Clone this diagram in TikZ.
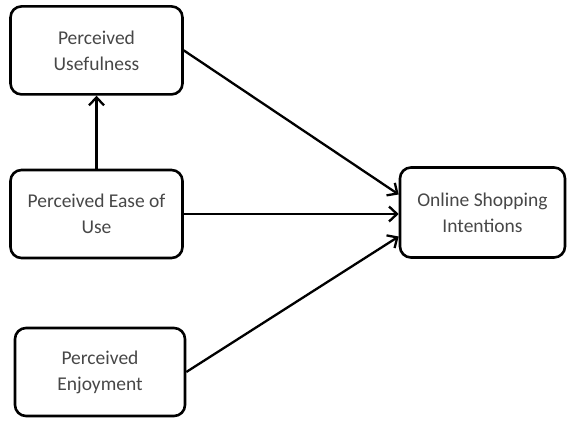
\documentclass[tikz,border=0pt]{standalone}
\usepackage{fontspec}
\setmainfont{Carlito}
\usetikzlibrary{positioning, arrows.meta}

\begin{document}
\begin{tikzpicture}[x=1pt, y=-1pt,
	box/.style={draw, line width=2.6pt, rounded corners=11pt, align=center, text=black!72,
		font=\fontsize{19.5}{26}\selectfont, inner sep=0pt},
	arr/.style={line width=2.3pt, -{Straight Barb[length=8pt, width=15pt, line width=2.3pt]}}]
	\useasboundingbox (0,0) rectangle (568,423);
	\node[box, minimum width=172pt, minimum height=88pt] (peou) at (96.5,214) {Perceived Ease of\\Use};
	\node[box, minimum width=172pt, minimum height=88pt, above=73pt of peou] (pu) {Perceived\\Usefulness};
	\node[box, minimum width=170pt, minimum height=88pt] (pe) at (100,372) {Perceived\\Enjoyment};
	\node[box, minimum width=165pt, minimum height=90pt] (osi) at (482.5,212.5) {Online Shopping\\Intentions};
	\draw[arr] (peou) -- (pu);
	\draw[arr] (pu.east) -- ([yshift=18pt]osi.west);
	\draw[arr] (peou.east) -- (osi.west |- peou.east);
	\draw[arr] (pe.east) -- ([yshift=-24pt]osi.west);
\end{tikzpicture}
\end{document}
